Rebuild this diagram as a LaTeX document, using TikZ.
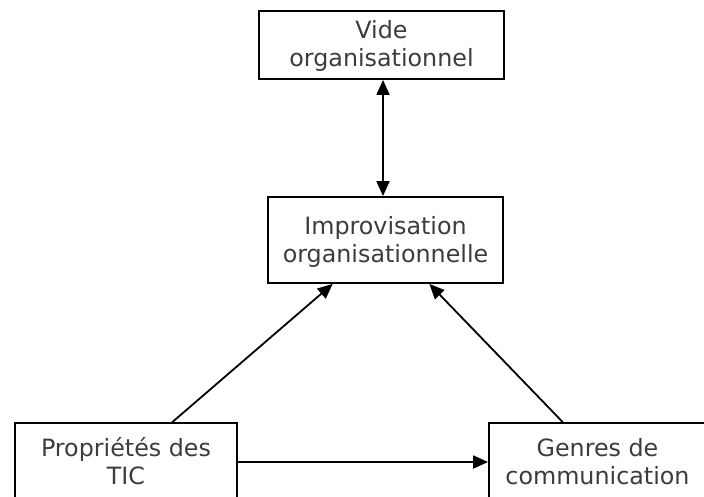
\documentclass[tikz,border=0pt]{standalone}
\usepackage{fontspec}
\setmainfont{DejaVu Sans}
\usetikzlibrary{arrows.meta,calc}
\definecolor{textgray}{HTML}{3C3C3C}
\newcommand{\lstrut}{\rule[-6pt]{0pt}{28pt}}

\begin{document}
\begin{tikzpicture}
    [x=1pt,y=1pt,line width=1.8pt,
     box/.style={draw,align=center,text=textgray,inner sep=0pt,
                 font=\fontsize{23.8}{28}\selectfont},
     arr/.style={-{Triangle[length=15pt,width=13pt]}},
     biarr/.style={{Triangle[length=15pt,width=13pt]}-{Triangle[length=15pt,width=13pt]}}]
    \path[use as bounding box,clip] (0,0) rectangle (704,-497);
    % boxes
    \node[box,minimum width=245pt,minimum height=68pt] (vide) at (381.5,-45)
      {Vide\lstrut\\organisationnel\lstrut};
    \node[box,minimum width=235pt,minimum height=86pt] (impro) at (385.5,-240)
      {Improvisation\lstrut\\organisationnelle\lstrut};
    \node[box,minimum width=222pt,minimum height=78pt] (tic) at (126,-462)
      {Propriétés des\lstrut\\TIC\lstrut};
    \node[box,minimum width=217pt,minimum height=78pt] (genres) at (597.5,-462)
      {Genres de\lstrut\\communication\lstrut};
    % arrows
    \draw[biarr] ([xshift=1.5pt]vide.south) -- ([xshift=1.5pt]vide.south |- impro.north);
    \draw[arr] ($(tic.north west)!0.707!(tic.north east)$)
      -- ($(impro.south west)!0.277!(impro.south east)$);
    \draw[arr] ($(genres.north west)!0.341!(genres.north east)$)
      -- ($(impro.south west)!0.685!(impro.south east)$);
    \draw[arr] (tic.east) -- (genres.west);
\end{tikzpicture}
\end{document}
